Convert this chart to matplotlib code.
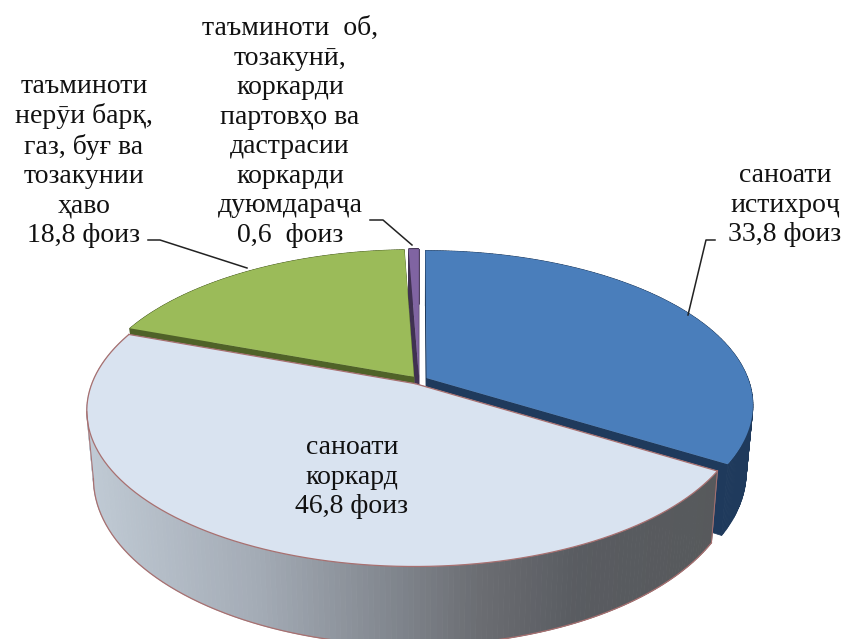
import numpy as np
import matplotlib
matplotlib.use("Agg")
import matplotlib.pyplot as plt

plt.rcParams['font.family'] = ['Liberation Serif', 'DejaVu Serif']

# clockwise from 12 o'clock
names = ["истихроҷ", "коркард", "нерӯи", "об"]
values = [33.8, 46.8, 18.8, 0.6]
tops = ["#4a7ebb", "#d9e3f0", "#9bbb59", "#8064a2"]
sides = ["#1f3a5c", "#8a8f96", "#4f6228", "#403152"]
labels = ["саноати\nистихроҷ\n33,8 фоиз",
          "саноати\nкоркард\n46,8 фоиз",
          "таъминоти\nнерӯи барқ,\nгаз, буғ ва\nтозакунии\nҳаво\n18,8 фоиз",
          "таъминоти  об,\nтозакунӣ,\nкоркарди\nпартовҳо ва\nдастрасии\nкоркарди\nдуюмдараҷа\n0,6  фоиз"]

# fake 3d geometry, in pixels of the picture
cx, cy = 419, 380
a, b, k = 322, 150, 0.172
depth = 65
explode = 0.027
shrink = 0.98


def project(u, v):
    w = 1 + k * v
    return cx + a * u / w, cy - b * v / w


def to_bottom(x, y, v):
    return cx + (x - cx) * shrink, y + depth / (1 + k * v)


def wall_color(x):
    # grey gradient on the front of the big slice
    stops_x = [90, 260, 400, 480, 580, 720]
    stops_c = [(0.75, 0.79, 0.83), (0.64, 0.67, 0.71), (0.50, 0.52, 0.55),
               (0.42, 0.43, 0.45), (0.35, 0.36, 0.38), (0.34, 0.35, 0.36)]
    return [np.interp(x, stops_x, [c[i] for c in stops_c]) for i in range(3)]


fig = plt.figure(figsize=(8.53, 6.39), dpi=100)
ax = fig.add_axes([0, 0, 1, 1])
ax.set_xlim(0, 853)
ax.set_ylim(639, 0)
ax.axis('off')

ends = 90 - 3.6 * np.cumsum(values)
starts = ends + 3.6 * np.array(values)

# back slices first, the big front slice goes last
for i in [3, 2, 0, 1]:
    t = np.radians(np.linspace(starts[i], ends[i], 200))
    mid = (t[0] + t[-1]) / 2
    off_u, off_v = explode * np.cos(mid), explode * np.sin(mid)
    u = off_u + np.cos(t)
    v = off_v + np.sin(t)
    x, y = project(u, v)
    xb, yb = to_bottom(x, y, v)
    ax_, ay_ = project(off_u, off_v)
    abx, aby = to_bottom(ax_, ay_, off_v)

    # cut faces
    for j in [0, -1]:
        ax.fill([ax_, x[j], xb[j], abx], [ay_, y[j], yb[j], aby], color=sides[i], lw=0.5)
    # outer wall, strip by strip
    for j in range(len(t) - 1):
        col = wall_color(x[j]) if i == 1 else sides[i]
        ax.fill([x[j], x[j + 1], xb[j + 1], xb[j]], [y[j], y[j + 1], yb[j + 1], yb[j]],
                color=col, lw=0.6)
    ax.fill(np.r_[ax_, x], np.r_[ay_, y], color=tops[i], lw=0)
    if i == 1:
        rim = "#a87070"
        left = np.argmin(x)
        ax.plot(x, y, color=rim, lw=0.9)
        ax.plot(xb[:left + 1], yb[:left + 1], color=rim, lw=0.9)
        ax.plot([ax_, x[-1]], [ay_, y[-1]], color=rim, lw=0.9)
        ax.plot([ax_, x[0]], [ay_, y[0]], color=rim, lw=0.9)
        ax.plot([x[0], xb[0]], [y[0], yb[0]], color=rim, lw=0.7)
        ax.plot([x[left], xb[left]], [y[left], yb[left]], color=rim, lw=0.7)

# leader lines
ax.plot([715, 706, 688], [240, 240, 315], color="#222222", lw=1.1)
ax.plot([148, 160, 247], [240, 240, 268], color="#222222", lw=1.1)
ax.plot([370, 383, 412], [220, 220, 245], color="#222222", lw=1.1)

size, gap = 20, 1.235
ax.text(785, 205, labels[0], fontsize=size, ha='center', va='center', linespacing=gap, color="#111111")
ax.text(352, 477, labels[1], fontsize=size, ha='center', va='center', linespacing=gap, color="#111111")
ax.text(84, 161, labels[2], fontsize=size, ha='center', va='center', linespacing=gap, color="#111111")
ax.text(290, 132, labels[3], fontsize=size, ha='center', va='center', linespacing=gap, color="#111111")

fig.savefig("out.png", dpi=100)
